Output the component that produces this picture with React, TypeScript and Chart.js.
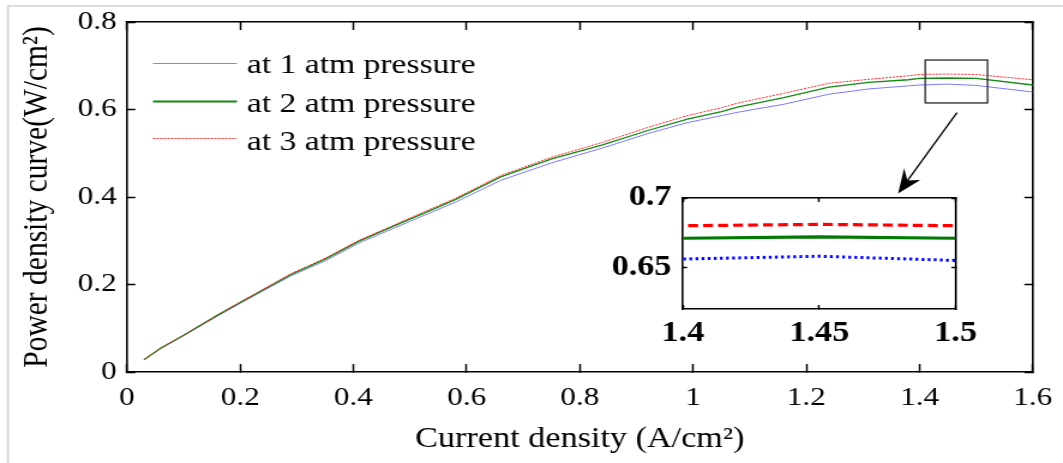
import React, { useEffect, useRef } from 'react';
import { Chart, registerables } from 'chart.js';

Chart.register(...registerables);

const FONT = "'Liberation Serif', 'Times New Roman', Times, serif";
const SX = 1.2; // horizontal stretch of the reference picture
const PAGE_W = 1063;
const PAGE_H = 463;
const MAIN_W = Math.round(PAGE_W / SX);

// ---- data ----
const currentDensity = [0.03, 0.06, 0.1, 0.16, 0.2, 0.29, 0.35, 0.41, 0.47, 0.53, 0.58, 0.66, 0.75, 0.84, 0.92, 0.99, 1.05, 1.08, 1.16, 1.24, 1.31, 1.38, 1.4, 1.45, 1.5, 1.6];
const power1atm = [0.028, 0.054, 0.083, 0.128, 0.157, 0.22, 0.254, 0.295, 0.328, 0.361, 0.388, 0.438, 0.478, 0.512, 0.545, 0.57, 0.586, 0.594, 0.612, 0.635, 0.647, 0.654, 0.656, 0.658, 0.655, 0.64];
const power2atm = [0.028, 0.055, 0.084, 0.13, 0.159, 0.223, 0.258, 0.299, 0.333, 0.366, 0.394, 0.446, 0.487, 0.519, 0.552, 0.578, 0.595, 0.606, 0.627, 0.651, 0.662, 0.668, 0.671, 0.672, 0.671, 0.656];
const power3atm = [0.028, 0.055, 0.084, 0.13, 0.16, 0.225, 0.26, 0.301, 0.335, 0.369, 0.397, 0.449, 0.491, 0.525, 0.559, 0.586, 0.604, 0.615, 0.637, 0.66, 0.669, 0.677, 0.68, 0.681, 0.68, 0.668];
const seriesLabels = ['at 1 atm pressure', 'at 2 atm pressure', 'at 3 atm pressure'];

const xTicks = [0, 0.2, 0.4, 0.6, 0.8, 1, 1.2, 1.4, 1.6];
const yTicks = [0, 0.2, 0.4, 0.6, 0.8];
const insetXTicks = [1.4, 1.45, 1.5];
const insetYTicks = [0.65, 0.7];

const xTitle = 'Current density (A/cm²)';
const yTitle = 'Power density curve(W/cm²)';

// zoom box & arrow (data coordinates)
const zoomBox = [1.41, 1.52, 0.615, 0.713];
const arrowFrom = [1.466, 0.593];
const arrowTo = [1.362, 0.408];

const fmt = (v: any) => String(Math.round(Number(v) * 1000) / 1000);
const pts = (ys: number[]) => currentDensity.map((x, i) => ({ x, y: ys[i] }));

const setTicks = (vals: number[]) => (s: any) => {
  s.ticks = vals.map((v) => ({ value: v }));
};

// fix the box size of a scale and drop the label overflow padding
const fitTo = (prop: 'width' | 'height', val: number) => (s: any) => {
  s[prop] = val;
  s.paddingLeft = 0;
  s.paddingRight = 0;
  s.paddingTop = 0;
  s.paddingBottom = 0;
};

const mainPlugin = {
  id: 'mainDecor',
  beforeDraw(chart: any) {
    const { ctx, width, height } = chart;
    ctx.save();
    ctx.fillStyle = '#ffffff';
    ctx.fillRect(0, 0, width, height);
    ctx.strokeStyle = '#dcdcdc';
    ctx.lineWidth = 2;
    ctx.beginPath();
    ctx.moveTo(8 / SX, height);
    ctx.lineTo(8 / SX, 6);
    ctx.lineTo(width, 6);
    ctx.stroke();
    ctx.restore();
  },
  afterDraw(chart: any) {
    const { ctx } = chart;
    const xs = chart.scales.x;
    const ys = chart.scales.y;
    ctx.save();
    // zoom rectangle
    const rx0 = xs.getPixelForValue(zoomBox[0]);
    const rx1 = xs.getPixelForValue(zoomBox[1]);
    const ry0 = ys.getPixelForValue(zoomBox[3]);
    const ry1 = ys.getPixelForValue(zoomBox[2]);
    ctx.strokeStyle = '#333';
    ctx.lineWidth = 1.4;
    ctx.strokeRect(rx0, ry0, rx1 - rx0, ry1 - ry0);
    // arrow (computed in screen space, then compressed)
    const sx = xs.getPixelForValue(arrowFrom[0]) * SX;
    const sy = ys.getPixelForValue(arrowFrom[1]);
    const tx = xs.getPixelForValue(arrowTo[0]) * SX;
    const ty = ys.getPixelForValue(arrowTo[1]);
    const dx = tx - sx, dy = ty - sy;
    const len = Math.hypot(dx, dy);
    const ux = dx / len, uy = dy / len;
    const nx = -uy, ny = ux;
    const L = 24, HW = 10, N = 8;
    const left = [tx - ux * L + nx * HW, ty - uy * L + ny * HW];
    const right = [tx - ux * L - nx * HW, ty - uy * L - ny * HW];
    const notch = [tx - ux * (L - N), ty - uy * (L - N)];
    ctx.strokeStyle = '#000';
    ctx.lineWidth = 1.3;
    ctx.beginPath();
    ctx.moveTo(sx / SX, sy);
    ctx.lineTo(notch[0] / SX, notch[1]);
    ctx.stroke();
    ctx.fillStyle = '#000';
    ctx.beginPath();
    ctx.moveTo(tx / SX, ty);
    ctx.lineTo(left[0] / SX, left[1]);
    ctx.lineTo(notch[0] / SX, notch[1]);
    ctx.lineTo(right[0] / SX, right[1]);
    ctx.closePath();
    ctx.fill();
    // legend inside the plot
    const lineY = [63.5, 101.5, 138.5];
    const textY = [66, 104.3, 142.6];
    const x0 = 153 / SX, x1 = 237 / SX, xt = 247 / SX;
    chart.data.datasets.forEach((ds: any, i: number) => {
      ctx.strokeStyle = ds.legendColor || ds.borderColor;
      ctx.lineWidth = ds.legendWidth || ds.borderWidth;
      ctx.setLineDash(ds.legendDash || []);
      ctx.beginPath();
      ctx.moveTo(x0, lineY[i]);
      ctx.lineTo(x1, lineY[i]);
      ctx.stroke();
      ctx.setLineDash([]);
      ctx.fillStyle = '#000';
      ctx.font = `28px ${FONT}`;
      ctx.textBaseline = 'middle';
      ctx.textAlign = 'left';
      ctx.fillText(ds.label, xt, textY[i]);
    });
    ctx.restore();
  },
};

const insetPlugin = {
  id: 'insetBg',
  beforeDraw(chart: any) {
    const { ctx, chartArea } = chart;
    ctx.save();
    ctx.fillStyle = '#ffffff';
    ctx.fillRect(chartArea.left, chartArea.top, chartArea.right - chartArea.left, chartArea.bottom - chartArea.top);
    ctx.restore();
  },
};

const axisGrid = (tl: number) => ({
  drawOnChartArea: false,
  tickLength: tl,
  tickWidth: 1.5,
  tickColor: '#000',
});
const axisBorder = { color: '#000', width: 1.6 };

export default function App() {
  const mainRef = useRef<HTMLCanvasElement>(null);
  const insetRef = useRef<HTMLCanvasElement>(null);

  useEffect(() => {
    const tickFont = { family: FONT, size: 26 };
    const main = new Chart(mainRef.current as HTMLCanvasElement, {
      type: 'line',
      data: {
        datasets: [
          { label: seriesLabels[0], data: pts(power1atm), borderColor: 'rgba(90,90,255,0.8)', borderWidth: 1, pointRadius: 0, order: 2, legendColor: '#8484ff', legendWidth: 1.2 } as any,
          { label: seriesLabels[1], data: pts(power2atm), borderColor: '#138a13', borderWidth: 1.3, legendWidth: 2, pointRadius: 0, order: 1 } as any,
          { label: seriesLabels[2], data: pts(power3atm), borderColor: 'rgba(255,20,20,0.9)', borderWidth: 1, borderDash: [2, 1], pointRadius: 0, order: 0, legendColor: '#ff3a3a', legendDash: [2, 1] } as any,
        ],
      },
      options: {
        animation: false,
        responsive: false,
        devicePixelRatio: 1,
        events: [],
        layout: { padding: 0 },
        plugins: { legend: { display: false }, tooltip: { enabled: false } },
        elements: { line: { tension: 0 } },
        scales: {
          x: {
            type: 'linear', position: 'bottom', min: 0, max: 1.6,
            afterBuildTicks: setTicks(xTicks),
            ticks: { font: tickFont, color: '#000', padding: 19, maxRotation: 0, autoSkip: false, callback: fmt },
            grid: axisGrid(-8), border: axisBorder,
            title: { display: true, text: xTitle, color: '#000', font: { family: FONT, size: 28.5 }, padding: { top: 0, bottom: 6 } },
            afterFit: fitTo('height', PAGE_H - 372),
          },
          x2: {
            type: 'linear', position: 'top', min: 0, max: 1.6,
            afterBuildTicks: setTicks(xTicks),
            ticks: { display: false },
            grid: axisGrid(-8), border: axisBorder,
            afterFit: fitTo('height', 22),
          },
          y: {
            type: 'linear', position: 'left', min: 0, max: 0.8,
            afterBuildTicks: setTicks(yTicks),
            ticks: { font: tickFont, color: '#000', padding: 15.5, callback: fmt },
            grid: axisGrid(-7), border: axisBorder,
            title: { display: true, text: yTitle, color: '#000', font: { family: FONT, size: 29.5 }, padding: { top: 14, bottom: 0 } },
            afterFit: fitTo('width', 127 / SX),
          },
          y2: {
            type: 'linear', position: 'right', min: 0, max: 0.8,
            afterBuildTicks: setTicks(yTicks),
            ticks: { display: false },
            grid: axisGrid(-7), border: axisBorder,
            afterFit: fitTo('width', MAIN_W - 1033 / SX),
          },
        },
      } as any,
      plugins: [mainPlugin],
    });

    const insetFont = { family: FONT, size: 28.6, weight: 'bold' };
    const inset = new Chart(insetRef.current as HTMLCanvasElement, {
      type: 'line',
      data: {
        datasets: [
          { label: seriesLabels[0], data: pts(power1atm), borderColor: '#0000ff', borderWidth: 3, borderDash: [2.3, 2.8], pointRadius: 0 },
          { label: seriesLabels[1], data: pts(power2atm), borderColor: '#007a00', borderWidth: 3.2, pointRadius: 0 },
          { label: seriesLabels[2], data: pts(power3atm), borderColor: '#ff0000', borderWidth: 3.2, borderDash: [8.3, 4.2], pointRadius: 0 },
        ],
      },
      options: {
        animation: false,
        responsive: false,
        devicePixelRatio: 1,
        events: [],
        layout: { padding: 0 },
        plugins: { legend: { display: false }, tooltip: { enabled: false } },
        scales: {
          x: {
            type: 'linear', position: 'bottom', min: 1.4, max: 1.5,
            afterBuildTicks: setTicks(insetXTicks),
            ticks: { font: insetFont, color: '#000', padding: 11.8, maxRotation: 0, autoSkip: false, callback: fmt },
            grid: axisGrid(-4), border: axisBorder,
            afterFit: fitTo('height', 41),
          },
          x2: {
            type: 'linear', position: 'top', min: 1.4, max: 1.5,
            afterBuildTicks: setTicks(insetXTicks),
            ticks: { display: false },
            grid: axisGrid(-4), border: axisBorder,
            afterFit: fitTo('height', 13),
          },
          y: {
            type: 'linear', position: 'left', min: 0.62, max: 0.7,
            afterBuildTicks: setTicks(insetYTicks),
            ticks: { font: insetFont, color: '#000', padding: 13, callback: fmt },
            grid: axisGrid(-3.5), border: axisBorder,
            afterFit: fitTo('width', 83 / SX),
          },
          y2: {
            type: 'linear', position: 'right', min: 0.62, max: 0.7,
            afterBuildTicks: setTicks(insetYTicks),
            ticks: { display: false },
            grid: axisGrid(-3.5), border: axisBorder,
            afterFit: fitTo('width', Math.round(380 / SX) - 356 / SX),
          },
        },
      } as any,
      plugins: [insetPlugin],
    });

    return () => {
      main.destroy();
      inset.destroy();
    };
  }, []);

  return (
    <div style={{ position: 'fixed', left: 0, top: 0, width: PAGE_W, height: PAGE_H, background: '#fff', overflow: 'hidden' }}>
      <canvas
        ref={mainRef}
        width={MAIN_W}
        height={PAGE_H}
        style={{ position: 'absolute', left: 0, top: 0, width: PAGE_W, height: PAGE_H, display: 'block' }}
      />
      <canvas
        ref={insetRef}
        width={Math.round(380 / SX)}
        height={165}
        style={{ position: 'absolute', left: 600, top: 185, width: 380, height: 165, display: 'block' }}
      />
    </div>
  );
}
